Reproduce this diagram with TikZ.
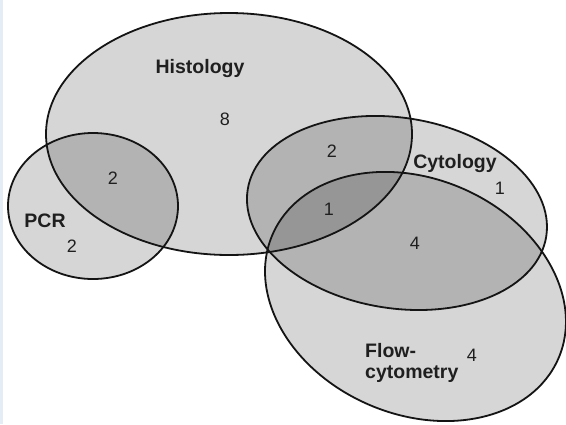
\documentclass[tikz,border=0pt]{standalone}
\usepackage{fontspec}
\setmainfont{Liberation Sans}
\definecolor{edgeblue}{HTML}{E4ECF5}
\begin{document}
\begin{tikzpicture}[x=1pt,y=-1pt,
  setfill/.style={fill=black, fill opacity=0.16},
  setline/.style={draw=black!92, line width=1.8pt},
  lab/.style={font=\fontsize{19.5}{21}\selectfont\bfseries, text=black!88, anchor=base, inner sep=0pt},
  num/.style={font=\fontsize{18}{20}\selectfont, text=black!88, anchor=base, inner sep=0pt}]
\fill[white] (0,0) rectangle (566,424);
\fill[edgeblue] (0,0) rectangle (2.5,424);
\useasboundingbox (0,0) rectangle (566,424);
\clip (0,0) rectangle (566,424);
% centres
\coordinate (hc) at (229,134);
\coordinate (pc) at (93,206);
\coordinate (cc) at (397,213);
\coordinate (fc) at (415.5,296.5);
% fills
\fill[setfill] (hc) ellipse [x radius=183pt, y radius=121pt];
\fill[setfill] (pc) ellipse [x radius=85pt, y radius=73pt];
\fill[setfill, rotate around={-8.9:(cc)}] (cc) ellipse [x radius=151.1pt, y radius=95.3pt];
\fill[setfill, rotate around={-23.4:(fc)}] (fc) ellipse [x radius=155.8pt, y radius=117.8pt];
% outlines
\draw[setline] (hc) ellipse [x radius=183pt, y radius=121pt];
\draw[setline] (pc) ellipse [x radius=85pt, y radius=73pt];
\draw[setline, rotate around={-8.9:(cc)}] (cc) ellipse [x radius=151.1pt, y radius=95.3pt];
\draw[setline, rotate around={-23.4:(fc)}] (fc) ellipse [x radius=155.8pt, y radius=117.8pt];
% labels
\node[lab] (histlab) at (200,73) {Histology};
\node[lab] (pcrlab) at (45,227) {PCR};
\node[lab] (cytlab) at (455,168) {Cytology};
\node[lab, anchor=base west] (flowlab1) at (365,357) {Flow-};
\node[lab, anchor=base west] (flowlab2) at (365,378) {cytometry};
% numbers
\node[num] (nh) at (225,125) {8};
\node[num] (nph) at (113,184) {2};
\node[num] (np) at (72,252) {2};
\node[num] (nhc) at (332,157) {2};
\node[num] (nc) at (500,194) {1};
\node[num] (nhcf) at (329,215) {1};
\node[num] (ncf) at (415,249) {4};
\node[num] (nf) at (472,361) {4};
\end{tikzpicture}
\end{document}
